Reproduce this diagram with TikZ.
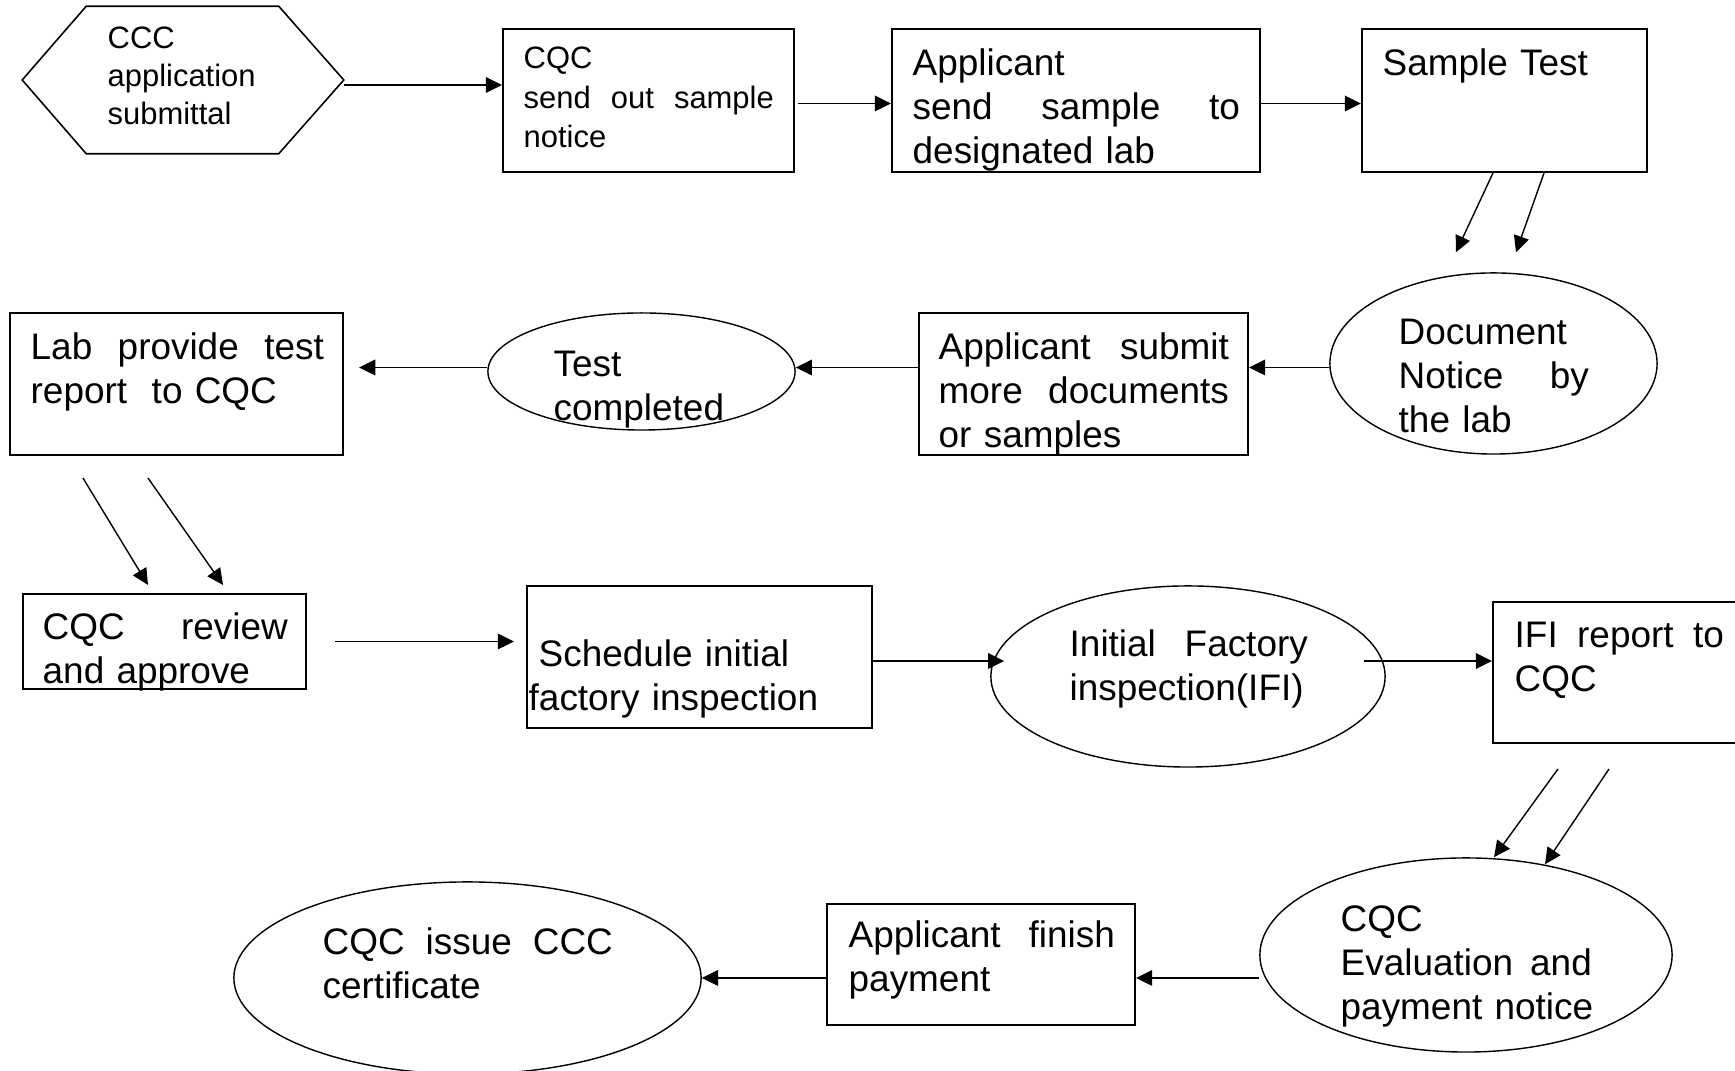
\documentclass[tikz,border=0pt]{standalone}
\usepackage{fontspec}
\setmainfont{Liberation Sans}
\usetikzlibrary{shapes.geometric, arrows.meta}

% text sizes of the chart
\newcommand{\flowbig}{\fontsize{10.5pt}{12.5pt}\selectfont}
\newcommand{\flowsmall}{\fontsize{8.8pt}{11.2pt}\selectfont}
% a line stretched to a given width
\newcommand{\spread}[2]{\makebox[#1][l]{#2}}

\begin{document}
\begin{tikzpicture}[
            x = 0.01cm, y = -0.01cm,
            box/.style={draw, line width=.55pt, inner sep=0pt},
            oval/.style={draw, line width=.4pt, ellipse, inner sep=0pt},
            txt/.style={anchor=base west, align=left, inner sep=0pt, text width=4.6cm, font=\flowbig},
            arr/.style={line width=.55pt, -{Triangle[length=4.6pt, width=4.4pt]}},
            thinarr/.style={arr, line width=.4pt},
            ]

        \path[use as bounding box, fill=white] (0, 0) rectangle (1735, 1071);

        % first row
        \node[inner sep=0pt, minimum width=3.2cm, minimum height=1.46cm] (apply) at (183, 80) {};
        \draw[line width=.45pt] (apply.west) -- ([xshift=.64cm]apply.north west) -- ([xshift=-.65cm]apply.north east)
            -- (apply.east) -- ([xshift=-.65cm]apply.south east) -- ([xshift=.64cm]apply.south west) -- cycle;
        \node[box, minimum width=2.91cm, minimum height=1.43cm] (sendout) at (648.5, 100.5) {};
        \node[box, minimum width=3.68cm, minimum height=1.43cm] (sendlab) at (1076, 100.5) {};
        \node[box, minimum width=2.85cm, minimum height=1.43cm] (sampletest) at (1504.5, 100.5) {};

        % second row
        \node[oval, minimum width=3.27cm, minimum height=1.81cm] (docnotice) at (1493.5, 363.5) {};
        \node[box, minimum width=3.29cm, minimum height=1.42cm] (submit) at (1083.5, 384) {};
        \node[oval, minimum width=3.07cm, minimum height=1.17cm] (testdone) at (641.5, 371.5) {};
        \node[box, minimum width=3.33cm, minimum height=1.42cm] (labreport) at (176.5, 384) {};

        % third row
        \node[box, minimum width=2.83cm, minimum height=.95cm] (review) at (164.5, 641.5) {};
        \node[box, minimum width=3.45cm, minimum height=1.42cm] (schedule) at (699.5, 657) {};
        \node[oval, minimum width=3.94cm, minimum height=1.81cm] (ifi) at (1188, 676.5) {};
        \node[box, minimum width=2.52cm, minimum height=1.41cm] (ifireport) at (1619, 672.5) {};

        % fourth row
        \node[oval, minimum width=4.12cm, minimum height=1.94cm] (evaluation) at (1466, 955) {};
        \node[box, minimum width=3.08cm, minimum height=1.21cm] (payment) at (981, 964.5) {};
        \node[oval, minimum width=4.67cm, minimum height=1.92cm] (certificate) at (467.5, 978) {};

        % texts
        \node[txt, font=\fontsize{8.8pt}{10.7pt}\selectfont] (apply-txt) at (107, 49) {CCC\\ application\\ submittal};
        \node[txt, font=\flowsmall] (sendout-txt) at (523, 69) {CQC\\ \spread{2.50cm}{send\hfill out\hfill sample}\\ notice};
        \node[txt] (sendlab-txt) at (912, 76) {Applicant\\ \spread{3.27cm}{send\hfill sample\hfill to}\\ designated lab};
        \node[txt] (sampletest-txt) at (1382, 76) {Sample Test};
        \node[txt] (docnotice-txt) at (1398, 345) {Document\\ \spread{1.90cm}{Notice\hfill by}\\ the lab};
        \node[txt] (submit-txt) at (938, 360) {\spread{2.90cm}{Applicant\hfill submit}\\ \spread{2.90cm}{more\hfill documents}\\ or samples};
        \node[txt] (testdone-txt) at (553, 377) {Test\\ completed};
        \node[txt] (labreport-txt) at (30, 360) {\spread{2.93cm}{Lab\hfill provide\hfill test}\\ report\ \ to CQC};
        \node[txt] (review-txt) at (42, 640) {\spread{2.45cm}{CQC\hfill review}\\ and approve};
        \node[txt] (schedule-txt) at (528, 667) {\hspace*{.1cm}Schedule initial\\ factory inspection};
        \node[txt] (ifi-txt) at (1069, 657) {\spread{2.38cm}{Initial\hfill Factory}\\ inspection(IFI)};
        \node[txt] (ifireport-txt) at (1514, 648) {\spread{2.09cm}{IFI\hfill report\hfill to}\\ CQC};
        \node[txt] (evaluation-txt) at (1340, 932) {CQC\\ \spread{2.51cm}{Evaluation\hfill and}\\ payment notice};
        \node[txt] (payment-txt) at (848, 948) {\spread{2.66cm}{Applicant\hfill finish}\\ payment};
        \node[txt] (certificate-txt) at (322, 955) {\spread{2.90cm}{CQC\hfill issue\hfill CCC}\\ certificate};

        % arrows
        \draw[arr] ([yshift=-.05cm]apply.east) coordinate (a1) -- (a1 -| sendout.west);
        \draw[arr, shorten <=.03cm] ([yshift=-.03cm]sendout.east) coordinate (a2) -- (a2 -| sendlab.west);
        \draw[arr] ([yshift=-.03cm]sendlab.east) coordinate (a3) -- (a3 -| sampletest.west);
        \draw[thinarr] ([xshift=-.115cm]sampletest.south) -- ([shift={(-.375cm,.2cm)}]docnotice.north);
        \draw[thinarr] ([xshift=.395cm]sampletest.south) -- ([shift={(.225cm,.2cm)}]docnotice.north);
        \draw[arr] ([yshift=-.04cm]docnotice.west) coordinate (a4) -- (a4 -| submit.east);
        \draw[arr] (submit.west |- a4) -- (testdone.east |- a4);
        \draw[arr, shorten >=.15cm] (testdone.west |- a4) -- (labreport.east |- a4);
        \draw[thinarr] ([shift={(-.935cm,-.22cm)}]labreport.south) -- ([shift={(-.165cm,.08cm)}]review.north);
        \draw[thinarr] ([shift={(-.285cm,-.22cm)}]labreport.south) -- ([shift={(.585cm,.08cm)}]review.north);
        \draw[arr, shorten <=.28cm, shorten >=.12cm] (review.east) -- (review.east -| schedule.west);
        \draw[arr, shorten >=-.14cm] ([yshift=-.04cm]schedule.east) coordinate (a5) -- (a5 -| ifi.west);
        \draw[arr, shorten <=-.22cm] (ifi.east |- a5) -- (ifireport.west |- a5);
        \draw[thinarr] ([shift={(-.61cm,-.25cm)}]ifireport.south) -- ([xshift=.28cm]evaluation.north);
        \draw[thinarr] ([shift={(-.10cm,-.25cm)}]ifireport.south) -- ([shift={(.79cm,-.07cm)}]evaluation.north);
        \draw[arr] (evaluation.west |- certificate.east) -- (payment.east |- certificate.east);
        \draw[arr] (payment.west |- certificate.east) -- (certificate.east);
    \end{tikzpicture}
\end{document}
